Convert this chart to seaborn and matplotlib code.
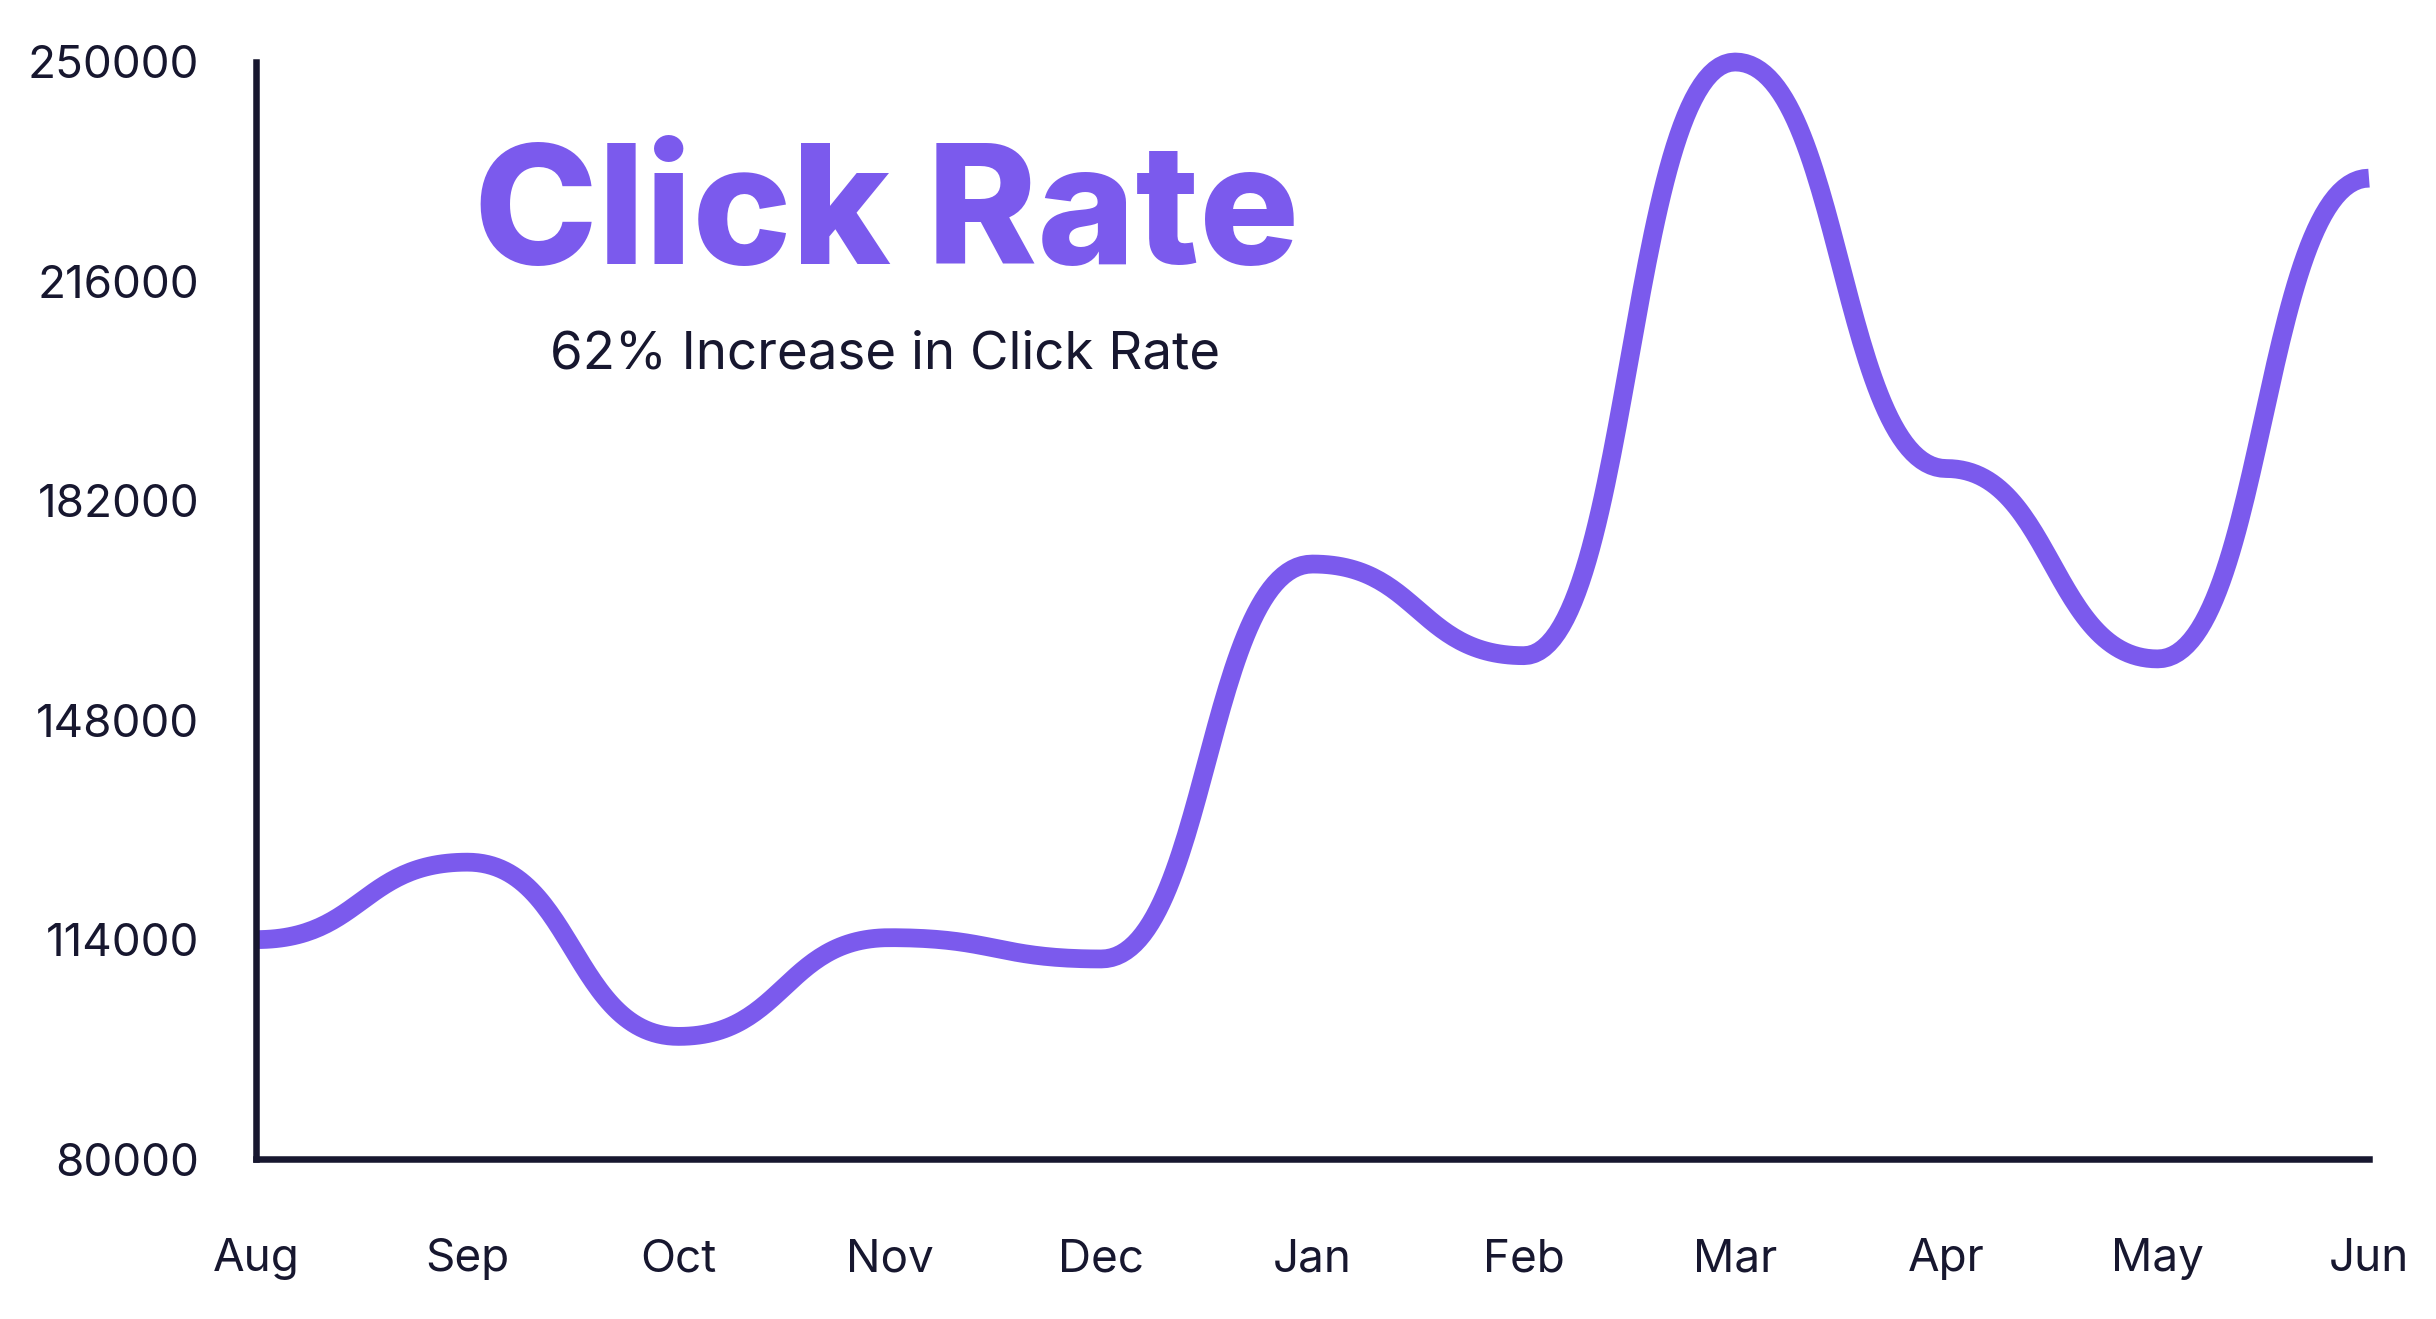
import numpy as np
import pandas as pd
import matplotlib.pyplot as plt
import seaborn as sns

months = ['Aug', 'Sep', 'Oct', 'Nov', 'Dec', 'Jan', 'Feb', 'Mar', 'Apr', 'May', 'Jun']
clicks = [114000, 126000, 99000, 114300, 111000, 172200, 158000, 250000, 187000, 157500, 232000]
y_ticks = [80000, 114000, 148000, 182000, 216000, 250000]
title = 'Click Rate'
subtitle = '62% Increase in Click Rate'

purple = '#7b5aed'
navy = '#17172f'


def bump_x(xs, ys, n=60):
    # bezier with flat handles between points (like d3 curveBumpX)
    t = np.linspace(0, 1, n)
    out_x, out_y = [], []
    for x0, x1, y0, y1 in zip(xs[:-1], xs[1:], ys[:-1], ys[1:]):
        xm = (x0 + x1) / 2
        bx = (1 - t)**3 * x0 + 3 * (1 - t)**2 * t * xm + 3 * (1 - t) * t**2 * xm + t**3 * x1
        by = (1 - t)**3 * y0 + 3 * (1 - t)**2 * t * y0 + 3 * (1 - t) * t**2 * y1 + t**3 * y1
        out_x.extend(bx)
        out_y.extend(by)
    return out_x, out_y


sx, sy = bump_x(list(range(len(months))), clicks)
curve = pd.DataFrame({'x': sx, 'clicks': sy})

sns.set_theme(style='white')
plt.rcParams['font.family'] = ['Inter', 'DejaVu Sans']

fig = plt.figure(figsize=(24.36, 13.19), dpi=100)
ax = fig.add_axes([0.1051, 0.1213, 0.8674, 0.8317])

sns.lineplot(data=curve, x='x', y='clicks', sort=False, estimator=None,
             color=purple, linewidth=13.5, ax=ax)
ax.lines[0].set_clip_on(False)
ax.lines[0].set_solid_capstyle('butt')

ax.set_xlim(0, len(months) - 1)
ax.set_ylim(y_ticks[0], y_ticks[-1])
ax.set_xticks(range(len(months)), months)
ax.set_yticks(y_ticks, [str(v) for v in y_ticks])
ax.set_xlabel(None)
ax.set_ylabel(None)
ax.tick_params(axis='both', length=0, labelsize=33, colors=navy)
ax.tick_params(axis='x', pad=57)
ax.tick_params(axis='y', pad=41)

for side in ['top', 'right']:
    ax.spines[side].set_visible(False)
for side in ['left', 'bottom']:
    ax.spines[side].set_linewidth(4.7)
    ax.spines[side].set_color(navy)

fig.text(0.364, 1 - 264 / 1319, title, ha='center', va='baseline',
         fontsize=120, fontweight='extra bold', color=purple)
fig.text(0.3634, 1 - 368 / 1319, subtitle, ha='center', va='baseline',
         fontsize=38, color=navy)

fig.savefig('out.png', dpi=100)
